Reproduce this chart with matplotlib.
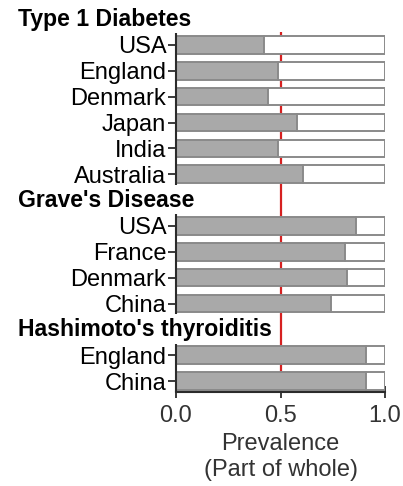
"""Prevalence (part of whole) of autoimmune disease by country, grouped by disease."""
import matplotlib
matplotlib.use("Agg")
import matplotlib.pyplot as plt
from matplotlib.transforms import blended_transform_factory

plt.rcParams["font.family"] = ["Liberation Sans", "DejaVu Sans"]

# data
group_names = ["Type 1 Diabetes", "Grave's Disease", "Hashimoto's thyroiditis"]
t1d_countries = ["USA", "England", "Denmark", "Japan", "India", "Australia"]
t1d_values = [0.42, 0.49, 0.44, 0.58, 0.49, 0.61]
graves_countries = ["USA", "France", "Denmark", "China"]
graves_values = [0.86, 0.81, 0.82, 0.74]
hashi_countries = ["England", "China"]
hashi_values = [0.91, 0.91]

groups = [
    (group_names[0], t1d_countries, t1d_values),
    (group_names[1], graves_countries, graves_values),
    (group_names[2], hashi_countries, hashi_values),
]

GRAY = "#a9a9a9"
EDGE = "#8a8a8a"
AXC = "#2b2b2b"
FS = 17

fig = plt.figure(figsize=(4.03, 4.86), dpi=100)
ax = fig.add_axes([176 / 403, 1 - 392 / 486, 209 / 403, 360 / 486])

y_bottom = 14.42
ax.set_xlim(0, 1)
ax.set_ylim(y_bottom, 0.5)

ax.axvline(0.5, color="#d62020", lw=1.6, zorder=0)

hdr_tf = blended_transform_factory(fig.transFigure, ax.transData)
row = 0
ticks, labels = [], []
for name, countries, values in groups:
    ax.text(18 / 403, row, name, transform=hdr_tf, ha="left", va="center",
            fontsize=16.6, fontweight="bold", clip_on=False)
    row += 1
    first = row
    for c, v in zip(countries, values):
        ax.barh(row, v, height=0.68, color=GRAY, edgecolor=EDGE, lw=1.4, zorder=2)
        ax.barh(row, 1 - v, left=v, height=0.68, color="white", edgecolor=EDGE,
                lw=1.4, zorder=2)
        ticks.append(row)
        labels.append(c)
        row += 1
    last = row - 1
    seg_bot = min(last + 0.42, y_bottom)
    ax.vlines(0, first - 0.45, seg_bot, color=AXC, lw=1.5, clip_on=False, zorder=3)

ax.spines["left"].set_visible(False)
ax.spines["top"].set_visible(False)
ax.spines["right"].set_visible(False)
ax.spines["bottom"].set_color(AXC)
ax.spines["bottom"].set_linewidth(1.5)

ax.set_yticks(ticks)
ax.set_yticklabels(labels, fontsize=FS)
ax.tick_params(axis="y", length=6, width=1.3, color=AXC, pad=1)
ax.set_xticks([0, 0.5, 1.0])
ax.set_xticklabels(["0.0", "0.5", "1.0"], fontsize=FS, color="#333333")
ax.tick_params(axis="x", direction="inout", length=8, width=1.3, color=AXC, pad=5)
ax.set_xlabel("Prevalence\n(Part of whole)", fontsize=FS, color="#333333",
              linespacing=1.2, labelpad=5)

fig.savefig("out.png", dpi=100)
